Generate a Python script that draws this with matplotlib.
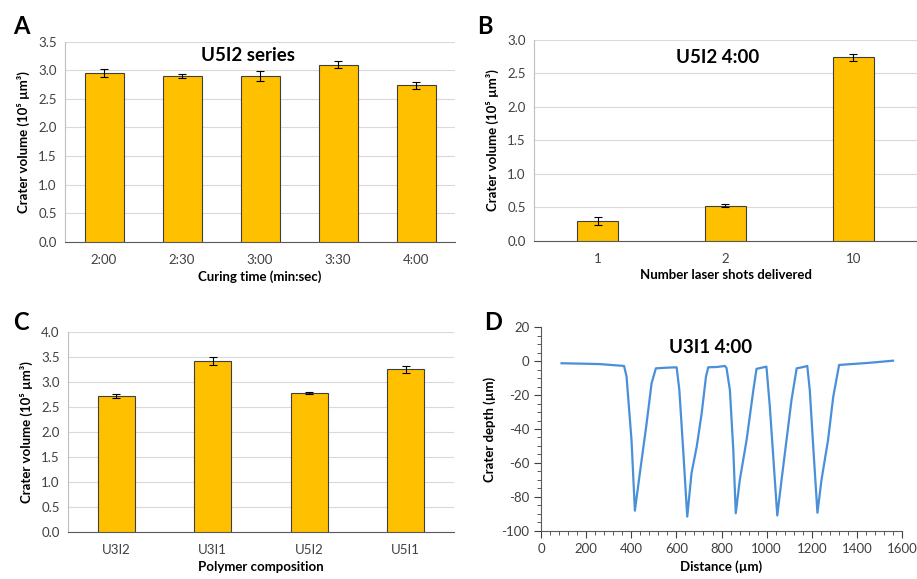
import numpy as np
import matplotlib
matplotlib.use("Agg")
import matplotlib.pyplot as plt

plt.rcParams['font.family'] = ['Lato', 'DejaVu Sans']
plt.rcParams['axes.unicode_minus'] = False

# panel A - U5I2 series
cure_times = ["2:00", "2:30", "3:00", "3:30", "4:00"]
vol_cure = [2.95, 2.90, 2.90, 3.10, 2.74]
err_cure = [0.065, 0.035, 0.08, 0.055, 0.06]

# panel B - U5I2 4:00
shots = ["1", "2", "10"]
vol_shots = [0.30, 0.525, 2.74]
err_shots = [0.06, 0.02, 0.057]

# panel C - polymer composition
polymers = ["U3I2", "U3I1", "U5I2", "U5I1"]
vol_poly = [2.72, 3.42, 2.77, 3.25]
err_poly = [0.04, 0.087, 0.02, 0.067]

# panel D - crater profile U3I1 4:00
dist = [91, 200, 261, 368, 379, 401, 416, 438, 468, 490, 509, 560, 601,
        613, 630, 648, 667, 690, 712, 731, 741, 780, 815, 822, 837, 852, 863,
        881, 911, 941, 955, 999, 1014, 1029, 1047, 1066, 1088, 1110, 1133,
        1160, 1180, 1191, 1209, 1225, 1243, 1272, 1295, 1321, 1450, 1560]
depth = [-1.2, -1.5, -1.7, -2.8, -9, -46.5, -88.2, -66, -36.6, -13, -4.2,
         -3.8, -3.6, -17, -52.4, -91.7, -66, -50.4, -30.7, -9.1, -3.6, -3.4,
         -2.8, -4, -17, -52, -89.7, -70, -46.5, -17, -4.5, -3.2, -26.8, -56,
         -91, -70, -46.5, -22.9, -4.2, -3.5, -2.8, -17, -56, -89.4, -70,
         -46.5, -21, -2.2, -1.0, 0.3]

bar_col = "#FFC000"
edge_col = "#404040"
tick_col = "#404040"
ylab = "Crater volume (10\u2075 \u00b5m\u00b3)"

fig = plt.figure(figsize=(9.17, 5.79), dpi=100)


def bar_panel(rect, cats, vals, errs, ymax, width, title, title_xy, xlabel):
    ax = fig.add_axes(rect)
    x = np.arange(len(cats))
    ax.bar(x, vals, width=width, color=bar_col, edgecolor=edge_col, linewidth=0.8, zorder=3)
    ax.errorbar(x, vals, yerr=errs, fmt="none", ecolor="black", elinewidth=0.8,
                capsize=3, capthick=0.8, zorder=4)
    ax.set_xlim(-0.5, len(cats) - 0.5)
    ax.set_ylim(0, ymax)
    ticks = np.arange(0, ymax + 0.01, 0.5)
    ax.set_yticks(ticks)
    ax.set_yticklabels(["%.1f" % v for v in ticks])
    ax.set_xticks(x)
    ax.set_xticklabels(cats)
    ax.yaxis.grid(True, color="#D9D9D9", linewidth=0.8, zorder=0)
    ax.set_axisbelow(True)
    for s in ["top", "right"]:
        ax.spines[s].set_visible(False)
    ax.spines["left"].set_color("#BFBFBF")
    ax.spines["bottom"].set_color("#595959")
    ax.tick_params(axis="both", length=0, labelsize=9.5, colors=tick_col, pad=6)
    ax.tick_params(axis="x", pad=9)
    ax.set_ylabel(ylab, fontsize=9.5, fontweight="bold", labelpad=6)
    ax.set_xlabel(xlabel, fontsize=9.5, fontweight="bold", labelpad=3)
    if title:
        ax.text(title_xy[0], title_xy[1], title, transform=ax.transAxes, ha="center",
                va="center", fontsize=13.5, fontweight="bold")
    return ax


bar_panel([0.0709, 0.5826, 0.4253, 0.3454], cure_times, vol_cure, err_cure, 3.5, 0.5,
          "U5I2 series", (0.47, 0.93), "Curing time (min:sec)")
bar_panel([0.5823, 0.5843, 0.4177, 0.3466], shots, vol_shots, err_shots, 3.0, 0.32,
          "U5I2 4:00", (0.48, 0.915), "Number laser shots delivered")
bar_panel([0.0742, 0.0812, 0.4209, 0.3454], polymers, vol_poly, err_poly, 4.0, 0.38,
          "", (0.5, 0.5), "Polymer composition")

axd = fig.add_axes([0.59, 0.0834, 0.3937, 0.3513])
axd.plot(dist, depth, color="#4A90D9", linewidth=1.6)
axd.set_xlim(0, 1600)
axd.set_ylim(-100, 20)
axd.set_xticks(np.arange(0, 1601, 200))
axd.set_yticks(np.arange(-100, 21, 20))
axd.set_xticks(np.arange(0, 1601, 40), minor=True)
axd.set_yticks(np.arange(-100, 21, 5), minor=True)
for s in ["top", "right"]:
    axd.spines[s].set_visible(False)
axd.spines["left"].set_color("#595959")
axd.spines["bottom"].set_color("#595959")
axd.tick_params(axis="both", which="major", length=5, direction="out", colors=tick_col,
                labelsize=9.5)
axd.tick_params(axis="both", which="minor", length=3, direction="out", color=tick_col)
axd.set_ylabel("Crater depth (\u00b5m)", fontsize=9.5, fontweight="bold", labelpad=4)
axd.set_xlabel("Distance (\u00b5m)", fontsize=9.5, fontweight="bold", labelpad=4)
axd.text(0.47, 0.9, "U3I1 4:00", transform=axd.transAxes, ha="center", va="center",
         fontsize=13.5, fontweight="bold")

for lab, px, py in [("A", 21, 26), ("B", 485, 26), ("C", 21, 322), ("D", 493, 322)]:
    fig.text(px / 917, 1 - py / 579, lab, ha="center", va="center", fontsize=17,
             fontweight="bold")

fig.savefig("out.png", dpi=100)
